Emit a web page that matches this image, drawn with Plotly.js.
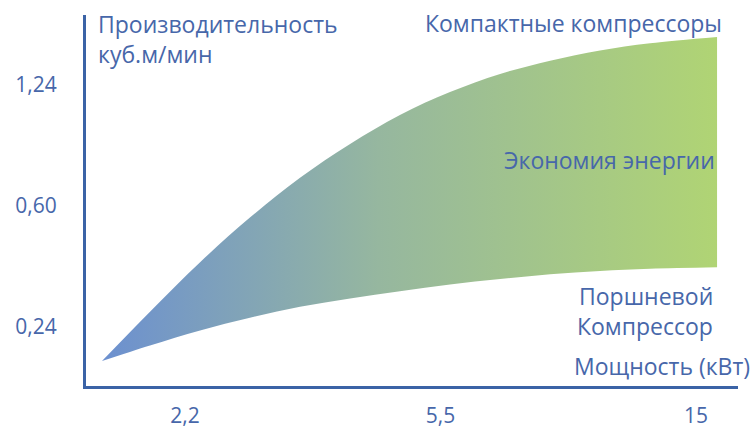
<!DOCTYPE html>
<html>
<head>
<meta charset="utf-8">
<script src="https://cdn.plot.ly/plotly-3.0.1.min.js"></script>
<style>html,body{margin:0;padding:0;background:#fff;}#chart{width:755px;height:432px;}</style>
</head>
<body>
<div id="chart"></div>
<script>
// Schematic axis: ticks are equally spaced positions with these labels
const xTickPos = [1, 2, 3];
const xTickText = ['2,2', '5,5', '15'];
const yTickPos = [1, 2, 3];
const yTickText = ['0,24', '0,60', '1,24'];

// Upper boundary (compact compressors), in tick-position units
const upperX = [0.675, 0.863, 1.059, 1.254, 1.450, 1.646, 1.841, 2.037, 2.233, 2.429, 2.624, 2.820, 3.082];
const upperY = [0.711, 1.120, 1.530, 1.900, 2.230, 2.510, 2.750, 2.940, 3.090, 3.200, 3.285, 3.345, 3.397];
// Lower boundary (piston compressor)
const lowerX = [0.675, 0.863, 1.059, 1.254, 1.450, 1.646, 1.841, 2.037, 2.233, 2.429, 2.624, 2.820, 3.082];
const lowerY = [0.711, 0.840, 0.965, 1.070, 1.160, 1.230, 1.290, 1.345, 1.390, 1.430, 1.458, 1.476, 1.488];

const txtColor = '#4767aa';
const axColor = '#3b63a6';
const FONT = 'Open Sans, Noto Sans, sans-serif';

// plot area in pixels: left 86, right 738, top 15, bottom 387
const L = 86, R = 738, T = 15, B = 386;
const px = x => (x - L) / (R - L);
const py = y => (B - y) / (B - T);

const traces = [
  {x: lowerX, y: lowerY, mode: 'lines', line: {width: 0, shape: 'spline'}, hoverinfo: 'skip', showlegend: false},
  {x: upperX, y: upperY, mode: 'lines', line: {width: 0, shape: 'spline'}, fill: 'tonexty',
   fillgradient: {type: 'horizontal', colorscale: [[0, '#6c90d0'], [0.45, '#96b79f'], [1, '#b0d474']]},
   hoverinfo: 'skip', showlegend: false}
];

const layout = {
  width: 755, height: 432,
  margin: {l: L, r: 755 - R, t: T, b: 432 - B, pad: 0},
  paper_bgcolor: '#fff', plot_bgcolor: '#fff',
  showlegend: false,
  xaxis: {
    range: [0.6125, 3.164], showgrid: false, zeroline: false,
    showline: true, linecolor: axColor, linewidth: 3,
    tickvals: xTickPos, ticktext: xTickText,
    ticks: 'outside', ticklen: 9, tickcolor: 'rgba(0,0,0,0)',
    tickfont: {family: FONT, size: 21, color: txtColor}, fixedrange: true
  },
  yaxis: {
    range: [0.504, 3.579], showgrid: false, zeroline: false,
    showline: true, linecolor: axColor, linewidth: 3,
    tickvals: yTickPos, ticktext: yTickText,
    ticks: 'outside', ticklen: 22, tickcolor: 'rgba(0,0,0,0)',
    tickfont: {family: FONT, size: 21, color: txtColor}, fixedrange: true
  },
  annotations: [
    {text: 'Производительность<br>куб.м/мин', xref: 'paper', yref: 'paper', x: px(96), y: py(6),
     xanchor: 'left', yanchor: 'top', align: 'left', showarrow: false,
     font: {family: FONT, size: 23, color: txtColor}},
    {text: 'Компактные компрессоры', xref: 'paper', yref: 'paper', x: px(724), y: py(23),
     xanchor: 'right', yanchor: 'middle', showarrow: false,
     font: {family: FONT, size: 23, color: txtColor}},
    {text: 'Экономия энергии', xref: 'paper', yref: 'paper', x: px(717), y: py(160),
     xanchor: 'right', yanchor: 'middle', showarrow: false,
     font: {family: FONT, size: 23, color: txtColor}},
    {text: 'Поршневой', xref: 'paper', yref: 'paper', x: px(715), y: py(296),
     xanchor: 'right', yanchor: 'middle', showarrow: false,
     font: {family: FONT, size: 23, color: txtColor}},
    {text: 'Компрессор', xref: 'paper', yref: 'paper', x: px(715), y: py(326),
     xanchor: 'right', yanchor: 'middle', showarrow: false,
     font: {family: FONT, size: 23, color: txtColor}},
    {text: 'Мощность (кВт)', xref: 'paper', yref: 'paper', x: px(752), y: py(366),
     xanchor: 'right', yanchor: 'middle', showarrow: false,
     font: {family: FONT, size: 23, color: txtColor}}
  ]
};

Plotly.newPlot('chart', traces, layout, {displayModeBar: false, staticPlot: true});
</script>
</body>
</html>
